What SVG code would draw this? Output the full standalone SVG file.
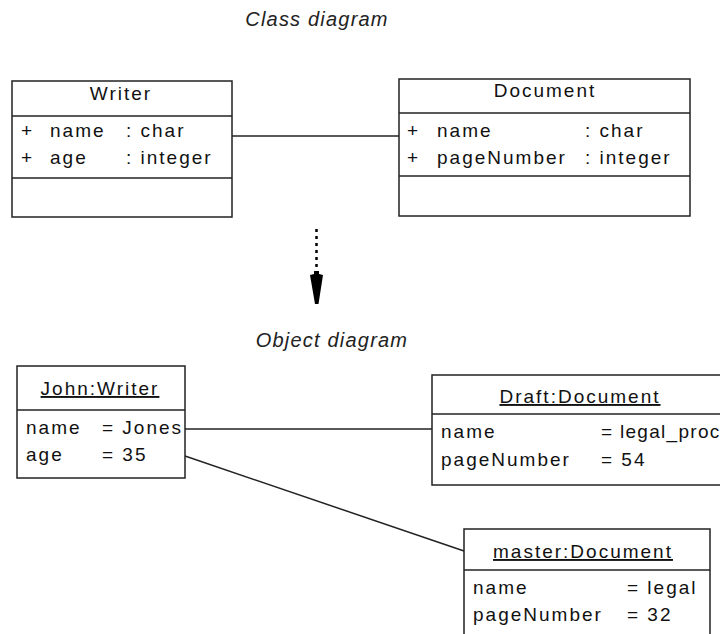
<svg xmlns="http://www.w3.org/2000/svg" width="720" height="634" viewBox="0 0 720 634">
<style>
.box{fill:#fff;stroke:#222;stroke-width:1.5}
.ln{stroke:#222;stroke-width:1.5;fill:none}
.t{font-family:"Liberation Sans",Arial,sans-serif;font-size:19px;letter-spacing:2px;fill:#111}
.c{text-anchor:middle}
.u{text-decoration:underline}
.title{font-family:"Liberation Sans",Arial,sans-serif;font-size:20px;letter-spacing:1.2px;font-style:italic;fill:#222;text-anchor:middle}
</style>
<rect width="720" height="634" fill="#fff"/>
<text class="title" x="317" y="26">Class diagram</text>
<text class="title" x="332" y="347">Object diagram</text>

<g id="connectors">
<line class="ln" x1="232" y1="136" x2="399" y2="136"/>
<line x1="316.5" y1="229" x2="316.5" y2="270" stroke="#000" stroke-width="2.5" stroke-dasharray="3,4"/>
<polygon points="314,271 319,271 319,274 323,275 318.5,304 315,304 310,275 314,274" fill="#000"/>
<line class="ln" x1="185" y1="429" x2="432" y2="429"/>
<line class="ln" x1="185" y1="456" x2="464" y2="551"/>
</g>

<g id="writer">
<rect class="box" x="12" y="81" width="220" height="136"/>
<line class="ln" x1="12" y1="116" x2="232" y2="116"/>
<line class="ln" x1="12" y1="178" x2="232" y2="178"/>
<text class="t c" x="121" y="100">Writer</text>
<text class="t" x="21" y="137">+</text><text class="t" x="50" y="137">name</text><text class="t" x="126" y="137">: char</text>
<text class="t" x="21" y="164">+</text><text class="t" x="50" y="164">age</text><text class="t" x="126" y="164">: integer</text>
</g>

<g id="document">
<rect class="box" x="399" y="79" width="291" height="137"/>
<line class="ln" x1="399" y1="113" x2="690" y2="113"/>
<line class="ln" x1="399" y1="176" x2="690" y2="176"/>
<text class="t c" x="545" y="97">Document</text>
<text class="t" x="407" y="137">+</text><text class="t" x="437" y="137">name</text><text class="t" x="585" y="137">: char</text>
<text class="t" x="407" y="164">+</text><text class="t" x="437" y="164">pageNumber</text><text class="t" x="585" y="164">: integer</text>
</g>

<g id="john">
<rect class="box" x="17" y="366" width="168" height="112"/>
<line class="ln" x1="17" y1="410" x2="185" y2="410"/>
<text class="t c u" x="100" y="395">John:Writer</text>
<text class="t" x="26" y="434">name</text><text class="t" x="102" y="434">= Jones</text>
<text class="t" x="26" y="461">age</text><text class="t" x="102" y="461">= 35</text>
</g>

<g id="draft">
<rect class="box" x="432" y="375" width="300" height="110"/>
<line class="ln" x1="432" y1="414" x2="732" y2="414"/>
<text class="t c u" x="580" y="403">Draft:Document</text>
<text class="t" x="441" y="438">name</text><text class="t" x="601" y="438" style="letter-spacing:1.3px">= legal_proc</text>
<text class="t" x="441" y="466">pageNumber</text><text class="t" x="601" y="466">= 54</text>
</g>

<g id="master">
<rect class="box" x="464" y="529" width="246" height="120"/>
<line class="ln" x1="464" y1="570" x2="710" y2="570"/>
<text class="t c u" x="583" y="558">master:Document</text>
<text class="t" x="473" y="594">name</text><text class="t" x="627" y="594">= legal</text>
<text class="t" x="473" y="621">pageNumber</text><text class="t" x="627" y="621">= 32</text>
</g>
</svg>
